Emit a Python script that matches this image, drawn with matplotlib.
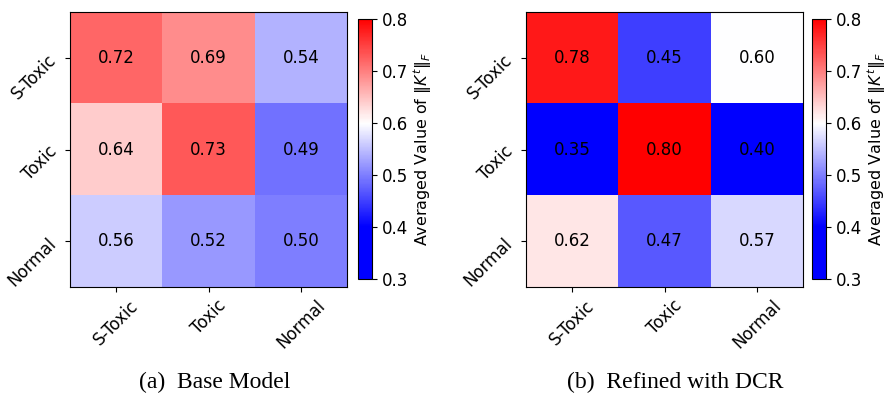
import numpy as np
from matplotlib import pyplot as plt
from matplotlib.colors import Normalize

# %%
CLASS_LABELS = ["S-Toxic", "Toxic", "Normal"]

baseModelNorms = [[0.72, 0.69, 0.54],
                  [0.64, 0.73, 0.49],
                  [0.56, 0.52, 0.50]]

refinedNorms = [[0.78, 0.45, 0.60],
                [0.35, 0.80, 0.40],
                [0.62, 0.47, 0.57]]

CAPTIONS = ["(a)  Base Model", "(b)  Refined with DCR"]
CBAR_LABEL = r"Averaged Value of $\Vert K^t\Vert_F$"
CBAR_TICKS = [0.3, 0.4, 0.5, 0.6, 0.7, 0.8]

FIG_W, FIG_H = 886, 394
FILE_DPI = 100
FONT_SIZE = 12

# %%
fig = plt.figure(figsize=(FIG_W / FILE_DPI, FIG_H / FILE_DPI), dpi=FILE_DPI)

# colours saturate below 0.4, colorbar still drawn from 0.3
norm = Normalize(vmin=0.4, vmax=0.8)


def px(x, y, w, h):
    # pixel box (top-left origin) -> figure fraction
    return [x / FIG_W, (FIG_H - y - h) / FIG_H, w / FIG_W, h / FIG_H]


heatmapBoxes = [px(70, 12, 277, 275), px(526, 12, 277, 275)]
cbarBoxes = [px(358, 19, 14, 260), px(812, 19, 14, 260)]
captionX = [215, 675]

for data, hBox, cBox, caption, capX in zip([baseModelNorms, refinedNorms], heatmapBoxes, cbarBoxes, CAPTIONS, captionX):
    data = np.array(data)
    ax = fig.add_axes(hBox)
    im = ax.imshow(data, cmap="bwr", norm=norm, aspect="auto")

    for i in range(data.shape[0]):
        for j in range(data.shape[1]):
            ax.text(j, i, "%.2f" % data[i, j], ha="center", va="center", fontsize=FONT_SIZE, color="black")

    ax.set_xticks(range(len(CLASS_LABELS)))
    ax.set_yticks(range(len(CLASS_LABELS)))
    ax.set_xticklabels(CLASS_LABELS, rotation=45, fontsize=FONT_SIZE)
    ax.set_yticklabels(CLASS_LABELS, rotation=45, fontsize=FONT_SIZE)
    ax.tick_params(length=3.5)

    cax = fig.add_axes(cBox)
    cbar = fig.colorbar(im, cax=cax, boundaries=np.linspace(0.3, 0.8, 257), ticks=CBAR_TICKS)
    cbar.ax.tick_params(labelsize=FONT_SIZE, length=3.5)
    cbar.set_label(CBAR_LABEL, fontsize=11.5, labelpad=2)

    fig.text(capX / FIG_W, 1 - 388 / FIG_H, caption, ha="center", va="baseline",
             fontsize=17, family="Liberation Serif")

plt.savefig("out.png", dpi=FILE_DPI)
plt.close()
